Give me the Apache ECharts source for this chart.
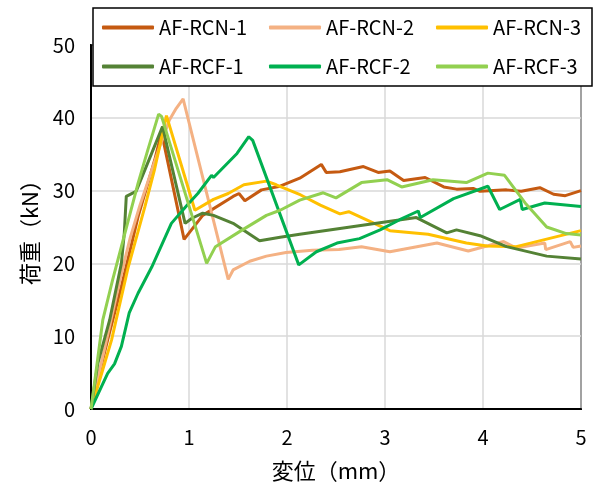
<!DOCTYPE html>
<html>
<head>
<meta charset="utf-8">
<script src="https://cdn.jsdelivr.net/npm/echarts@6/dist/echarts.min.js"></script>
<style>
  html, body { margin: 0; padding: 0; background: #fff; }
  #chart { width: 600px; height: 488px; }
</style>
</head>
<body>
<div id="chart"></div>
<script>
// [displacement mm, load kN]
const rcn1 = [[0,0],[0.05,3],[0.17,9.5],[0.31,16.8],[0.48,26.4],[0.65,34.2],[0.72,38],[0.95,23.3],[1.14,26.6],[1.45,29.2],[1.51,29.6],[1.57,28.6],[1.74,30.1],[1.93,30.6],[2.13,31.7],[2.35,33.6],[2.40,32.5],[2.54,32.6],[2.78,33.3],[2.93,32.5],[3.05,32.7],[3.19,31.4],[3.41,31.8],[3.60,30.5],[3.73,30.2],[3.90,30.3],[3.97,29.9],[4.24,30.1],[4.39,29.9],[4.58,30.4],[4.72,29.5],[4.84,29.3],[5.0,30.0]];
const rcn2 = [[0,0],[0.1,6],[0.2,12],[0.3,18],[0.4,23.5],[0.5,28],[0.6,32],[0.7,36],[0.8,39.7],[0.87,41.3],[0.94,42.6],[1.40,17.8],[1.45,19.1],[1.62,20.3],[1.79,21.0],[1.99,21.5],[2.26,21.8],[2.53,21.9],[2.76,22.3],[3.05,21.6],[3.53,22.8],[3.85,21.7],[4.21,23.0],[4.34,22.1],[4.63,22.8],[4.64,21.9],[4.89,23.0],[4.92,22.2],[5.0,22.4]];
const rcn3 = [[0,0],[0.1,4.5],[0.21,9.5],[0.38,19.5],[0.55,27.8],[0.65,33],[0.77,40.3],[1.06,27.3],[1.25,28.8],[1.40,29.6],[1.56,30.8],[1.79,31.3],[1.89,30.8],[2.14,29.4],[2.34,28.0],[2.54,26.8],[2.63,27.1],[3.05,24.5],[3.44,24.0],[3.83,22.8],[4.04,22.4],[4.34,22.3],[5.0,24.5]];
const rcf1 = [[0,0],[0.07,6.3],[0.19,12.2],[0.31,20],[0.34,24.2],[0.36,29.2],[0.46,29.9],[0.6,34.5],[0.73,38.8],[0.96,25.5],[1.03,26.2],[1.14,26.9],[1.25,26.6],[1.45,25.5],[1.72,23.1],[1.93,23.6],[2.13,24.0],[2.54,24.8],[3.32,26.3],[3.63,24.2],[3.73,24.6],[3.97,23.8],[4.24,22.3],[4.65,21.0],[5.0,20.6]];
const rcf2 = [[0,0],[0.17,4.9],[0.24,6.2],[0.31,8.6],[0.39,13.2],[0.48,15.9],[0.62,19.5],[0.82,25.5],[0.98,28.0],[1.09,29.6],[1.23,32.1],[1.25,31.8],[1.49,35.1],[1.61,37.4],[1.65,36.9],[2.12,19.8],[2.30,21.6],[2.51,22.8],[2.74,23.4],[2.95,24.6],[3.15,26.0],[3.34,27.2],[3.36,26.3],[3.70,28.9],[4.05,30.6],[4.17,27.4],[4.38,28.8],[4.40,27.4],[4.63,28.3],[5.0,27.8]];
const rcf3 = [[0,0],[0.04,4],[0.12,12.2],[0.22,17.7],[0.31,22.3],[0.48,31],[0.58,35.6],[0.69,40.5],[0.72,40.2],[1.18,20.0],[1.27,22.3],[1.52,24.4],[1.79,26.6],[1.93,27.3],[2.13,28.7],[2.37,29.7],[2.50,29.0],[2.76,31.1],[3.02,31.5],[3.17,30.5],[3.49,31.5],[3.83,31.1],[4.05,32.4],[4.22,32.1],[4.43,28.3],[4.65,25.0],[4.85,24.1],[5.0,23.9]];

const names = ['AF-RCN-1', 'AF-RCN-2', 'AF-RCN-3', 'AF-RCF-1', 'AF-RCF-2', 'AF-RCF-3'];
const colors = ['#C55A11', '#F4B183', '#FFC000', '#548235', '#00B050', '#92D050'];
const curves = [rcn1, rcn2, rcn3, rcf1, rcf2, rcf3];

const FONT = '"Noto Sans CJK JP", "Noto Sans", sans-serif';

const chart = echarts.init(document.getElementById('chart'), null, {renderer: 'canvas'});

chart.setOption({
  animation: false,
  textStyle: {fontFamily: FONT},
  grid: {
    left: 91, right: 19, top: 45, bottom: 79,
    show: true, borderColor: '#000', borderWidth: 2
  },
  legend: {
    data: names,
    left: 93, top: 8,
    width: 485,
    padding: [9, 7, 9, 9],
    itemGap: 18,
    itemWidth: 52, itemHeight: 4,
    icon: 'roundRect',
    backgroundColor: '#fff',
    borderColor: '#000', borderWidth: 1.5,
    textStyle: {fontSize: 20, color: '#000', width: 92, lineHeight: 21, fontFamily: FONT}
  },
  xAxis: {
    type: 'value', min: 0, max: 5, interval: 1,
    name: '変位（mm）', nameLocation: 'middle', nameGap: 51,
    nameTextStyle: {fontSize: 22, color: '#000', fontFamily: FONT},
    axisLine: {show: true, lineStyle: {color: '#000', width: 2}},
    axisTick: {show: false},
    axisLabel: {fontSize: 20, color: '#000', margin: 18},
    splitLine: {show: true, lineStyle: {color: '#D9D9D9', width: 1.5}}
  },
  yAxis: {
    type: 'value', min: 0, max: 50, interval: 10,
    name: '荷重（kN）', nameLocation: 'middle', nameGap: 50,
    nameTextStyle: {fontSize: 22, color: '#000', fontFamily: FONT},
    axisLine: {show: true, lineStyle: {color: '#000', width: 2}},
    axisTick: {show: false},
    axisLabel: {fontSize: 20, color: '#000', margin: 16},
    splitLine: {show: true, lineStyle: {color: '#D9D9D9', width: 1.5}}
  },
  series: curves.map((d, i) => ({
    name: names[i],
    type: 'line',
    data: d,
    symbol: 'none',
    color: colors[i],
    lineStyle: {width: 3, color: colors[i]}
  }))
});
</script>
</body>
</html>
